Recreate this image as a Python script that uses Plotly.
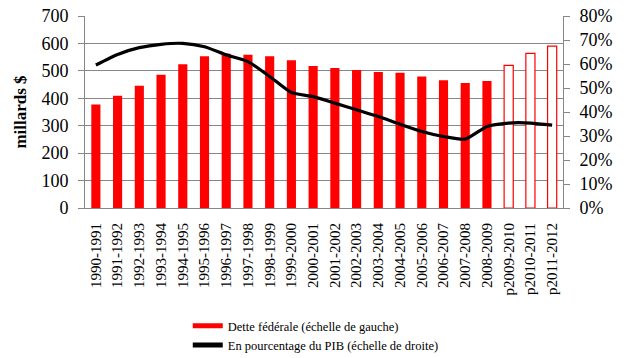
import plotly.graph_objects as go

categories = ["1990-1991", "1991-1992", "1992-1993", "1993-1994", "1994-1995", "1995-1996",
              "1996-1997", "1997-1998", "1998-1999", "1999-2000", "2000-2001", "2001-2002",
              "2002-2003", "2003-2004", "2004-2005", "2005-2006", "2006-2007", "2007-2008",
              "2008-2009", "p2009-2010", "p2010-2011", "p2011-2012"]
debt = [377, 409, 446, 486, 524, 553, 562, 559, 553, 539, 518, 510,
        503, 496, 493, 479, 466, 456, 463, 520, 564, 590]
pct_gdp = [59.6, 64.0, 66.8, 68.2, 68.6, 67.2, 63.8, 61.0, 54.8, 48.1, 46.4, 43.7,
           40.9, 38.1, 34.9, 31.9, 29.8, 28.7, 34.0, 35.4, 35.4, 34.5]
n_actual = 19
debt_label = "Dette fédérale (échelle de gauche)"
pct_label = "En pourcentage du PIB (échelle de droite)"

FONT = "Times New Roman, Liberation Serif, DejaVu Serif, serif"
GRID = "#878787"
RED = "#ff0000"

fig = go.Figure()
fig.add_trace(go.Bar(
    x=categories[:n_actual], y=debt[:n_actual], name=debt_label, showlegend=False,
    marker=dict(color=RED, line=dict(width=0)), width=0.42, yaxis="y"))
fig.add_trace(go.Bar(
    x=categories[n_actual:], y=debt[n_actual:], showlegend=False,
    marker=dict(color="white", line=dict(color=RED, width=1.2)), width=0.42, yaxis="y"))
# legend-only entry giving the wide red swatch of the original
fig.add_trace(go.Scatter(
    x=[None], y=[None], name=debt_label, mode="lines",
    line=dict(color=RED, width=7), yaxis="y", hoverinfo="skip"))
fig.add_trace(go.Scatter(
    x=categories, y=pct_gdp, name=pct_label, mode="lines",
    line=dict(color="black", width=3.2, shape="spline", smoothing=0.6), yaxis="y2"))

fig.update_layout(
    width=625, height=358,
    margin=dict(l=85, r=62, t=16, b=150, autoexpand=False),
    paper_bgcolor="white", plot_bgcolor="white",
    font=dict(family=FONT, color="black"),
    barmode="overlay",
    xaxis=dict(type="category", categoryorder="array", categoryarray=categories,
               tickangle=-90, tickfont=dict(size=15, family=FONT), automargin=False,
               showline=True, linecolor=GRID, linewidth=1, showgrid=False,
               ticks="", ticklabelstandoff=8, range=[-0.5, len(categories) - 0.5]),
    yaxis=dict(range=[0, 700], dtick=100, showgrid=True, gridcolor=GRID, gridwidth=1,
               showline=True, linecolor=GRID, linewidth=1, ticks="outside", ticklen=6,
               tickcolor=GRID, tickfont=dict(size=18, family=FONT), zeroline=False,
               automargin=False, ticklabelstandoff=6,
               title=dict(text="<b>millards $</b>", font=dict(size=17, family=FONT), standoff=10)),
    yaxis2=dict(range=[0, 80], dtick=10, ticksuffix="%", overlaying="y", side="right",
                showgrid=False, showline=True, linecolor=GRID, linewidth=1,
                ticks="outside", ticklen=6, tickcolor=GRID, automargin=False,
                ticklabelstandoff=6,
                tickfont=dict(size=18, family=FONT), zeroline=False),
    legend=dict(x=0.215, y=0.131, xref="paper", yref="container", xanchor="left", yanchor="top",
                orientation="v", font=dict(size=12.5, family=FONT), bgcolor="rgba(0,0,0,0)",
                tracegroupgap=0, itemsizing="constant", itemwidth=30),
    showlegend=True,
)

fig.write_html("out.html", config={"displayModeBar": False},
               post_script="document.body.style.margin='0';")
